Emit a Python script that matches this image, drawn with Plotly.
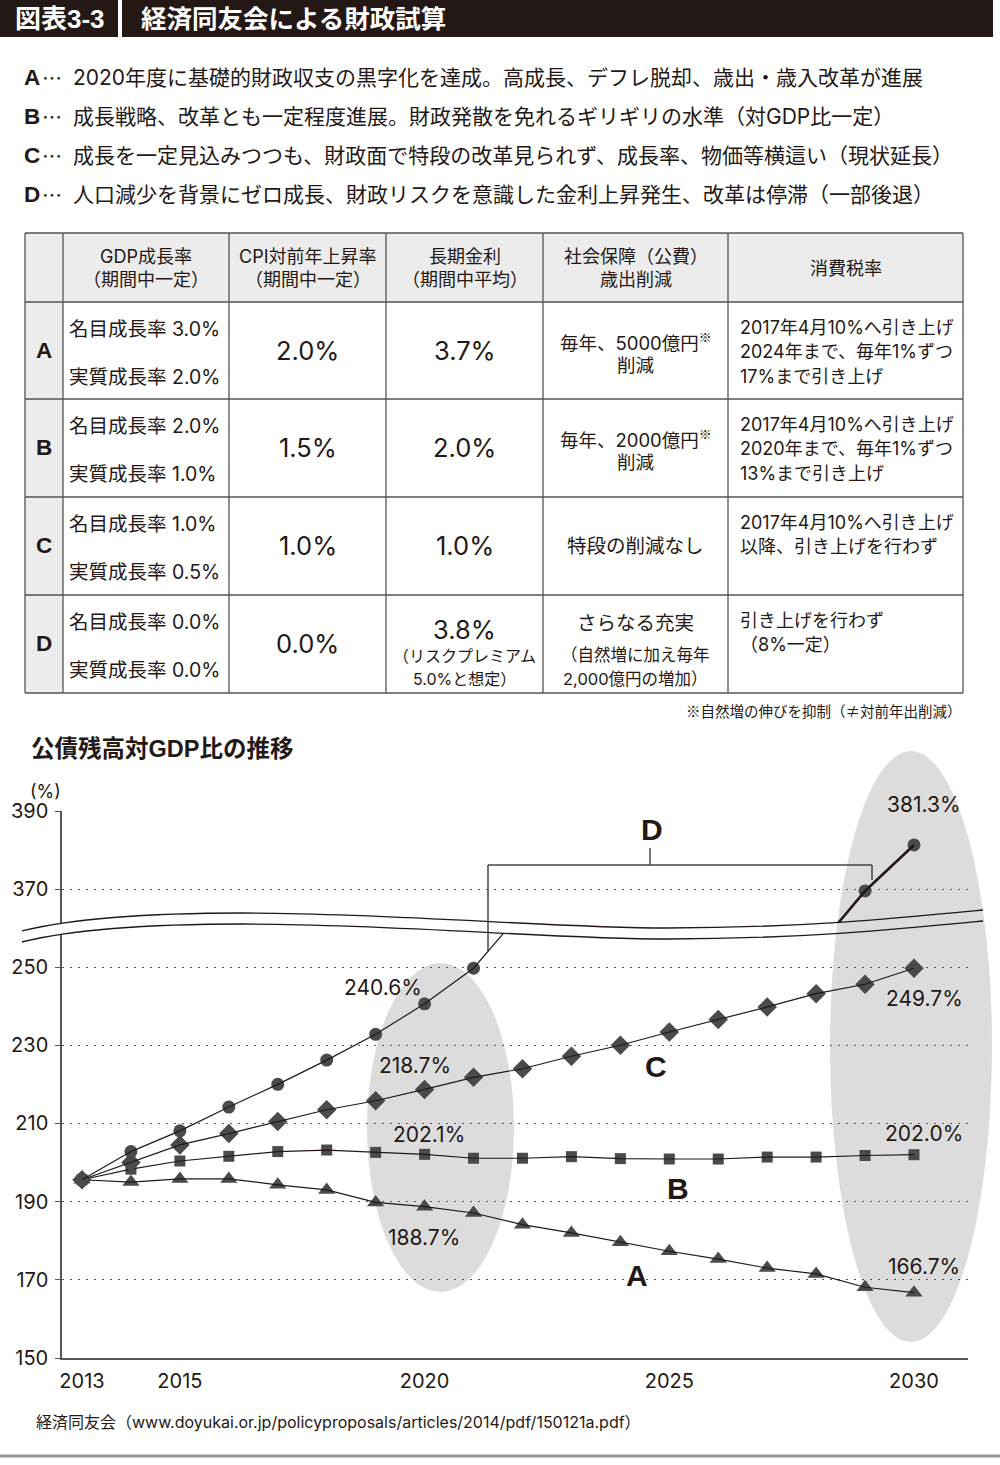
import plotly.graph_objects as go

W, H = 1000, 1465
INK = "#231815"
AXIS = "#555555"
MARK = "#4a4a4a"
HEAD_BG = "#ececec"
BORDER = "#555555"
ELLIPSE = "#dcdcdc"
LATIN = "Inter, Noto Sans CJK JP, sans-serif"
JP = "Noto Sans CJK JP, sans-serif"
BOLD_LATIN = "Liberation Sans, Arial, Noto Sans CJK JP, sans-serif"
REF_MARK = "<span style='font-family:Noto Sans CJK JP'>※</span>"

# ---------------- data ----------------
years = list(range(2013, 2031))
scenario_A = [195.6, 195.0, 195.8, 195.8, 194.3, 193.0, 189.8, 188.7, 187.1, 184.1,
              182.0, 179.6, 177.3, 175.3, 173.0, 171.5, 168.1, 166.7]
scenario_B = [195.6, 198.3, 200.4, 201.6, 202.8, 203.2, 202.6, 202.1, 201.1, 201.1,
              201.5, 201.0, 200.9, 200.9, 201.4, 201.4, 201.8, 202.0]
scenario_C = [195.6, 200.0, 204.5, 207.4, 210.5, 213.5, 215.8, 218.7, 221.8, 224.0,
              227.2, 230.0, 233.4, 236.6, 239.8, 243.2, 245.6, 249.7]
years_D = [2013, 2014, 2015, 2016, 2017, 2018, 2019, 2020, 2021, 2029, 2030]
scenario_D = [195.6, 202.8, 208.1, 214.2, 220.0, 226.2, 232.8, 240.6, 249.7, 369.5, 381.3]

lower_ticks = [150, 170, 190, 210, 230, 250]
upper_ticks = [370, 390]
x_ticks = [2013, 2015, 2020, 2025, 2030]

scenario_letters = ["A", "B", "C", "D"]
scenario_desc = [
    "2020年度に基礎的財政収支の黒字化を達成。高成長、デフレ脱却、歳出・歳入改革が進展",
    "成長戦略、改革とも一定程度進展。財政発散を免れるギリギリの水準（対GDP比一定）",
    "成長を一定見込みつつも、財政面で特段の改革見られず、成長率、物価等横這い（現状延長）",
    "人口減少を背景にゼロ成長、財政リスクを意識した金利上昇発生、改革は停滞（一部後退）",
]

table_header = ["GDP成長率<br>（期間中一定）", "CPI対前年上昇率<br>（期間中一定）",
                "長期金利<br>（期間中平均）", "社会保障（公費）<br>歳出削減", "消費税率"]
gdp_nominal = ["3.0%", "2.0%", "1.0%", "0.0%"]
gdp_real = ["2.0%", "1.0%", "0.5%", "0.0%"]
cpi_rate = ["2.0%", "1.5%", "1.0%", "0.0%"]
long_rate = ["3.7%", "2.0%", "1.0%", "3.8%"]
long_rate_note = ["", "", "", "（リスクプレミアム<br>5.0%と想定）"]
social = [f"毎年、5000億円<sup>{REF_MARK}</sup><br>削減", f"毎年、2000億円<sup>{REF_MARK}</sup><br>削減",
          "特段の削減なし", "さらなる充実"]
social_note = ["", "", "", "（自然増に加え毎年<br>2,000億円の増加）"]
tax = ["2017年4月10%へ引き上げ<br>2024年まで、毎年1%ずつ<br>17%まで引き上げ",
       "2017年4月10%へ引き上げ<br>2020年まで、毎年1%ずつ<br>13%まで引き上げ",
       "2017年4月10%へ引き上げ<br>以降、引き上げを行わず",
       "引き上げを行わず<br>（8%一定）"]
table_note = "※自然増の伸びを抑制（≠対前年出削減）"

title_no = "図表3-3"
title_text = "経済同友会による財政試算"
chart_title = "公債残高対GDP比の推移"
source_text = "経済同友会（www.doyukai.or.jp/policyproposals/articles/2014/pdf/150121a.pdf）"

# ---------------- helpers (pixel -> paper) ----------------
annotations = []
shapes = []


def px(x):
    return x / W


def py(y):
    return 1 - y / H


def text(x, y, s, size, anchor="center", bold=False, color=INK, family=LATIN):
    if bold:
        s = f"<b>{s}</b>"
    annotations.append(dict(x=px(x), y=py(y), xref="paper", yref="paper", text=s,
                            showarrow=False, xanchor=anchor, yanchor="middle", borderpad=0,
                            font=dict(size=size, color=color, family=family)))


def rect(x0, y0, x1, y1, fill, layer="below"):
    shapes.append(dict(type="rect", xref="paper", yref="paper", x0=px(x0), x1=px(x1),
                       y0=py(y1), y1=py(y0), fillcolor=fill, line=dict(width=0), layer=layer))


def ellipse(x0, y0, x1, y1, fill):
    shapes.append(dict(type="circle", xref="paper", yref="paper", x0=px(x0), x1=px(x1),
                       y0=py(y1), y1=py(y0), fillcolor=fill, line=dict(width=0), layer="below"))


def seg(x0, y0, x1, y1, color=BORDER, w=1.3):
    shapes.append(dict(type="line", xref="paper", yref="paper", x0=px(x0), y0=py(y0),
                       x1=px(x1), y1=py(y1), line=dict(color=color, width=w), layer="above"))


def curve(cmds, color=INK, w=1.3):
    parts = []
    for c, pts in cmds:
        parts.append(c + " " + " ".join(f"{px(a):.5f},{py(b):.5f}" for a, b in pts))
    shapes.append(dict(type="path", xref="paper", yref="paper", path=" ".join(parts),
                       line=dict(color=color, width=w), fillcolor="rgba(0,0,0,0)", layer="above"))


# ---------------- title bar ----------------
rect(0, 0, 118, 37, INK)
rect(122, 0, 993, 37, INK)
text(60, 19, title_no, 26, bold=True, color="white", family=BOLD_LATIN)
text(140, 19, title_text, 25.5, anchor="left", bold=True, color="white", family=BOLD_LATIN)

# ---------------- scenario lines ----------------
for i, (l, d) in enumerate(zip(scenario_letters, scenario_desc)):
    yc = 77 + i * 39
    text(23, yc, l, 22.5, anchor="left", bold=True, family=BOLD_LATIN)
    text(41, yc, "…", 20, anchor="left", family=JP)
    text(72, yc, d, 21, anchor="left")

# ---------------- table ----------------
col_x = [25, 63, 229, 386, 543, 728, 963]
row_y = [233, 302, 399, 497, 595, 693]
rect(col_x[0], row_y[0], col_x[-1], row_y[1], HEAD_BG)
rect(col_x[0], row_y[1], col_x[1], row_y[-1], HEAD_BG)
for xx in col_x:
    seg(xx, row_y[0], xx, row_y[-1])
for yy in row_y:
    seg(col_x[0], yy, col_x[-1], yy)

for i, h in enumerate(table_header):
    cx = (col_x[i + 1] + col_x[i + 2]) / 2
    lines = h.split("<br>")
    ys = [257, 280] if len(lines) == 2 else [268]
    for s, yy in zip(lines, ys):
        text(cx, yy, s, 18)

for r in range(4):
    top, bot = row_y[r + 1], row_y[r + 2]
    yc = (top + bot) / 2
    text((col_x[0] + col_x[1]) / 2, yc, scenario_letters[r], 22.5, bold=True, family=BOLD_LATIN)
    text(68, top + 27, f"名目成長率 {gdp_nominal[r]}", 19.5, anchor="left")
    text(68, top + 75, f"実質成長率 {gdp_real[r]}", 19.5, anchor="left")
    text((col_x[2] + col_x[3]) / 2, yc, cpi_rate[r], 25.5)
    cx = (col_x[3] + col_x[4]) / 2
    if long_rate_note[r]:
        text(cx, top + 34, long_rate[r], 25.5)
        for k, s in enumerate(long_rate_note[r].split("<br>")):
            text(cx, top + 61 + 23 * k, s, 16)
    else:
        text(cx, yc, long_rate[r], 25.5)
    cx = (col_x[4] + col_x[5]) / 2
    if social_note[r]:
        text(cx, top + 28, social[r], 19.5)
        for k, s in enumerate(social_note[r].split("<br>")):
            text(cx, top + 60 + 24 * k, s, 16.5)
    else:
        lines = social[r].split("<br>")
        if len(lines) == 2:
            text(cx, top + 38, lines[0], 18.5)
            text(cx, top + 63, lines[1], 18.5)
        else:
            text(cx, yc, lines[0], 19.5)
    for k, s in enumerate(tax[r].split("<br>")):
        text(739, top + 25 + 24.5 * k, s, 18, anchor="left")

text(963, 710, table_note, 14.5, anchor="right", family=JP)

# ---------------- chart decorations ----------------
text(30, 748, chart_title, 23.5, anchor="left", bold=True, family=BOLD_LATIN)
text(45, 792, "(%)", 18)
ellipse(367, 963, 514, 1292, ELLIPSE)
ellipse(830, 751, 992, 1342, ELLIPSE)

# axis break curves
curve([("M", [(22, 931)]), ("C", [(70, 919), (150, 913), (243, 913)]),
       ("C", [(400, 913), (550, 928), (667, 928)]),
       ("C", [(800, 928), (900, 918), (983, 910)])])
curve([("M", [(22, 942)]), ("C", [(70, 930), (150, 924), (243, 924)]),
       ("C", [(400, 924), (550, 939), (667, 939)]),
       ("C", [(800, 939), (900, 929), (983, 921)])])

# D bracket
seg(488, 865, 872, 865, "#444444", 1.5)
seg(488, 865, 488, 952, "#444444", 1.5)
seg(872, 865, 872, 880, "#444444", 1.5)
seg(650, 848, 650, 865, "#444444", 1.5)

text(652, 829, "D", 30, bold=True, family=BOLD_LATIN)
text(656, 1066, "C", 30, bold=True, family=BOLD_LATIN)
text(678, 1188, "B", 30, bold=True, family=BOLD_LATIN)
text(637, 1275, "A", 30, bold=True, family=BOLD_LATIN)

text(35, 1422, source_text, 16, anchor="left")
seg(0, 1456, 1000, 1456, "#9a9a9a", 3)

# ---------------- traces ----------------
fig = go.Figure()


def add_series(xs, ys, symbol, size, yaxis, width=1.2):
    fig.add_trace(go.Scatter(x=xs, y=ys, mode="markers", yaxis=yaxis, hoverinfo="skip",
                             marker=dict(symbol=symbol, size=size, color=MARK, line=dict(width=0))))
    fig.add_trace(go.Scatter(x=xs, y=ys, mode="lines", yaxis=yaxis, hoverinfo="skip",
                             line=dict(color=INK, width=width)))


add_series(years, scenario_A, "triangle-up", 15, "y")
add_series(years, scenario_B, "square", 11, "y")
add_series(years, scenario_C, "diamond", 15, "y")
add_series(years_D, scenario_D, "circle", 13, "y")
add_series(years_D, scenario_D, "circle", 13, "y2", width=2.6)

# value labels (positioned from data points)
value_labels = [
    (scenario_D, years_D, 2020, -42, 16, "y"),
    (scenario_C, years, 2020, -10, 24, "y"),
    (scenario_B, years, 2020, 4, 20, "y"),
    (scenario_A, years, 2020, -1, -31, "y"),
    (scenario_D, years_D, 2030, 10, 40, "y2"),
    (scenario_C, years, 2030, 10, -30, "y"),
    (scenario_B, years, 2030, 10, 21, "y"),
    (scenario_A, years, 2030, 10, 26, "y"),
]
for vals, xs, yr, dx, dy, yref in value_labels:
    v = vals[xs.index(yr)]
    annotations.append(dict(x=yr, y=v, xref="x", yref=yref, text=f"{v:.1f}%", showarrow=False,
                            xshift=dx, yshift=dy, font=dict(size=21, color=INK, family=LATIN)))

x0_px, x1_px = 62, 968
yr_px = (914 - 82) / 17
x_range = [2013 - (82 - x0_px) / yr_px, 2030 + (x1_px - 914) / yr_px]

axis_common = dict(showline=True, linecolor=AXIS, linewidth=1.5, zeroline=False, automargin=False,
                   tickfont=dict(size=20, color=INK, family=LATIN))

fig.update_layout(
    width=W, height=H, margin=dict(l=0, r=0, t=0, b=0, pad=0, autoexpand=False),
    paper_bgcolor="white", plot_bgcolor="rgba(0,0,0,0)", showlegend=False,
    xaxis=dict(domain=[px(x0_px), px(x1_px)], range=x_range, anchor="y",
               tickvals=x_ticks, ticks="", showgrid=False, ticklabelstandoff=4, **axis_common),
    yaxis=dict(domain=[py(1358), py(934)], range=[150, 250 + (967 - 934) / 3.9], anchor="x",
               tickvals=lower_ticks, ticks="outside", ticklen=5, tickcolor=AXIS, tickwidth=1.3,
               showgrid=True, gridcolor=AXIS, gridwidth=1.2, griddash="2px,6px",
               ticklabelstandoff=3, **axis_common),
    yaxis2=dict(domain=[py(923), py(811)], range=[370 - (923 - 889) / 3.9, 390], anchor="x",
                tickvals=upper_ticks, ticks="outside", ticklen=5, tickcolor=AXIS, tickwidth=1.3,
                showgrid=True, gridcolor=AXIS, gridwidth=1.2, griddash="2px,6px",
                ticklabelstandoff=3, **axis_common),
    annotations=annotations,
    shapes=shapes,
)

fig.write_html("out.html", include_plotlyjs=True, full_html=True,
               config={"displayModeBar": False},
               post_script="document.body.style.margin='0px';")
